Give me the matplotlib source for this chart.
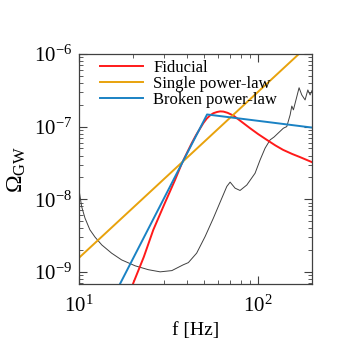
import numpy as np
import matplotlib
matplotlib.use("Agg")
import matplotlib.pyplot as plt
from matplotlib.ticker import FixedLocator, LogLocator, FuncFormatter, NullFormatter

plt.rcParams.update({
    "font.family": "Liberation Serif",
    "mathtext.fontset": "custom",
    "mathtext.rm": "Liberation Serif",
    "mathtext.it": "Liberation Serif:italic",
    "axes.unicode_minus": False,
})

# ---------- data ----------
# detector sensitivity curve (thin black)
sens_f = [10.0, 10.35, 10.8, 11.5, 12.3, 13.4, 15.2, 17.3, 20.6, 24.4, 28.4, 33.0,
          38.2, 40.8, 45.4, 50.6, 56.3, 62.7, 66.9, 69.8, 74.4, 79.3, 86.5, 96.2,
          102.6, 109.4, 116.7, 122.9, 129.9, 138.4, 144.6, 151.0, 154.3, 157.5,
          164.5, 169.4, 175.4, 183.0, 189.6, 195.2, 200.0]
sens_omega = [1.35e-8, 7.9e-9, 5.5e-9, 3.8e-9, 3.0e-9, 2.35e-9, 1.81e-9, 1.46e-9,
              1.21e-9, 1.07e-9, 1.0e-9, 1.04e-9, 1.25e-9, 1.34e-9, 1.81e-9, 3.06e-9,
              5.5e-9, 1.03e-8, 1.50e-8, 1.72e-8, 1.42e-8, 1.32e-8, 1.57e-8, 2.28e-8,
              3.47e-8, 5.04e-8, 6.56e-8, 7.2e-8, 8.2e-8, 9.5e-8, 1.0e-7, 1.45e-7,
              1.92e-7, 1.70e-7, 2.58e-7, 3.43e-7, 2.73e-7, 2.33e-7, 3.2e-7, 2.73e-7,
              3.13e-7]

# fiducial spectrum
fid_f = [19.0, 20.1, 23.0, 26.0, 30.0, 34.4, 37.5, 40.0, 42.6, 45.0, 47.4, 49.5,
         51.7, 54.0, 56.3, 59.0, 61.4, 64.0, 67.5, 72.8, 80.0, 90.2, 100.0, 112.0,
         125.0, 138.0, 155.0, 172.0, 200.0]
fid_omega = [4.6e-10, 7.0e-10, 1.6e-9, 3.79e-9, 8.6e-9, 1.85e-8, 3.1e-8, 4.3e-8,
             5.9e-8, 7.6e-8, 9.4e-8, 1.12e-7, 1.29e-7, 1.43e-7, 1.53e-7, 1.59e-7,
             1.62e-7, 1.61e-7, 1.55e-7, 1.42e-7, 1.19e-7, 9.5e-8, 7.9e-8, 6.56e-8,
             5.5e-8, 4.78e-8, 4.2e-8, 3.79e-8, 3.24e-8]

# single power-law
spl_f = [10.0, 169.0]
spl_omega = [1.56e-9, 1.0e-6]

# broken power-law
bpl_f = [15.0, 51.9, 200.0]
bpl_omega = [3.8e-10, 1.47e-7, 9.7e-8]

x_ticks = [10, 100]
y_ticks = [1e-9, 1e-8, 1e-7, 1e-6]

# ---------- plot ----------
fig = plt.figure(figsize=(3.46, 3.43), dpi=100)
ax = fig.add_axes([0.2283, 0.172, 0.6734, 0.6706])

ax.plot(sens_f, sens_omega, color="#404040", lw=0.7)
ax.plot(fid_f, fid_omega, color="#ff1a1a", lw=1.4, label="Fiducial")
ax.plot(spl_f, spl_omega, color="#e8a20c", lw=1.4, label="Single power-law")
ax.plot(bpl_f, bpl_omega, color="#1a82c4", lw=1.4, label="Broken power-law")

ax.set_xscale("log")
ax.set_yscale("log")
ax.set_xlim(10, 200)
ax.set_ylim(6.8e-10, 1e-6)

def pow_fmt(v, pos):
    e = int(round(np.log10(v)))
    return r"10$^{\mathregular{%d}}$" % e

ax.xaxis.set_major_locator(FixedLocator(x_ticks))
ax.yaxis.set_major_locator(FixedLocator(y_ticks))
ax.xaxis.set_minor_locator(LogLocator(base=10, subs=np.arange(2, 10), numticks=20))
ax.yaxis.set_minor_locator(LogLocator(base=10, subs=np.arange(2, 10), numticks=20))
ax.xaxis.set_major_formatter(FuncFormatter(pow_fmt))
ax.yaxis.set_major_formatter(FuncFormatter(pow_fmt))
ax.xaxis.set_minor_formatter(NullFormatter())
ax.yaxis.set_minor_formatter(NullFormatter())

ax.tick_params(which="both", direction="in", top=True, right=True,
               color="#404040", labelsize=15)
ax.tick_params(which="major", length=6, width=0.8)
ax.tick_params(which="minor", length=3, width=0.6)
ax.tick_params(axis="x", which="major", pad=8)
ax.tick_params(axis="y", which="major", pad=5)
for s in ax.spines.values():
    s.set_color("#404040")
    s.set_linewidth(0.9)

ax.set_xlabel("f [Hz]", fontsize=14, labelpad=4)
ax.set_ylabel(r"$\Omega_{\mathregular{GW}}$", fontsize=17, labelpad=4)

ax.legend(loc="upper left", bbox_to_anchor=(0.09, 0.975), frameon=False,
          fontsize=12, handlelength=2.6, handletextpad=0.6,
          labelspacing=0.0, borderpad=0, borderaxespad=0)

fig.savefig("out.png", dpi=100)
